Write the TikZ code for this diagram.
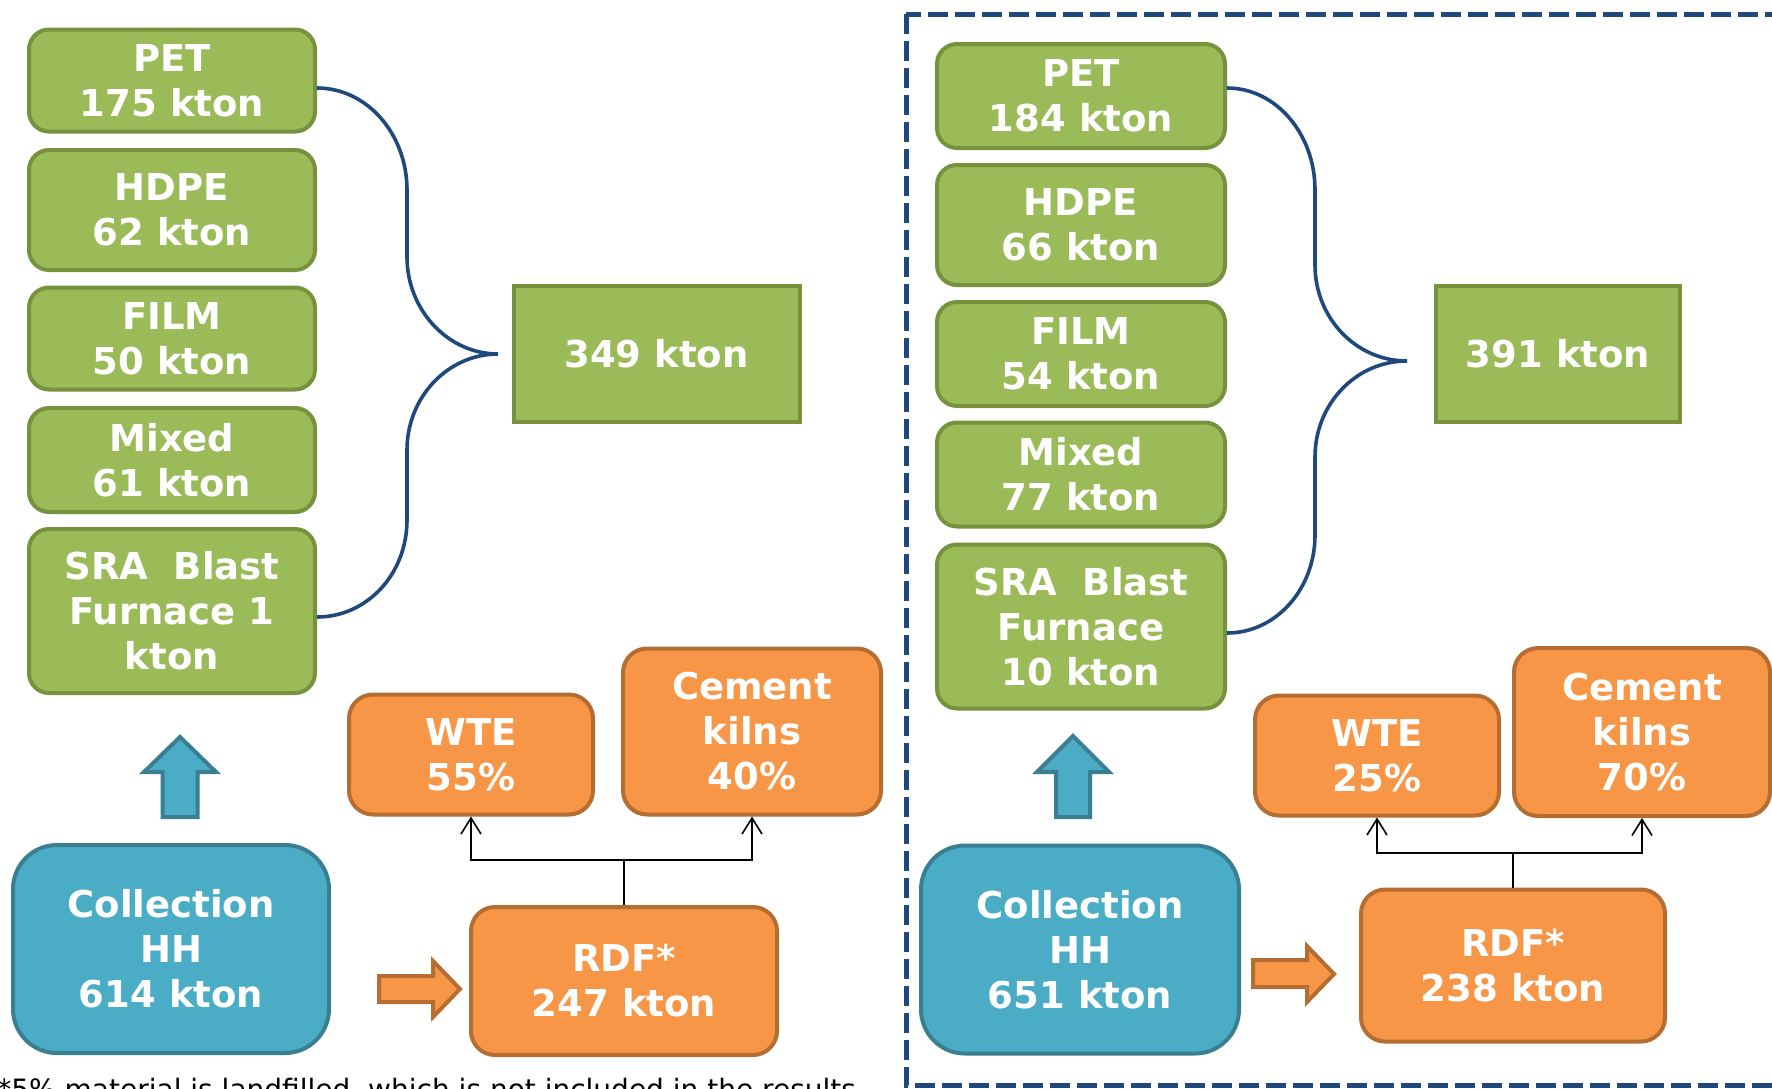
\documentclass[tikz,border=0pt]{standalone}
\usepackage{fontspec}
\setmainfont{DejaVu Sans}
\usetikzlibrary{arrows.meta}

\definecolor{gfill}{HTML}{9BBB59}
\definecolor{gline}{HTML}{76923C}
\definecolor{bfill}{HTML}{4BACC6}
\definecolor{bline}{HTML}{3A7F91}
\definecolor{ofill}{HTML}{F79646}
\definecolor{oline}{HTML}{B66D31}
\definecolor{navy}{HTML}{1F497D}

\newcommand\boxfont{\fontsize{18.5}{22.5}\selectfont\bfseries}

\tikzset{
  base/.style={line width=2pt, text=white, font=\boxfont, align=center, inner sep=0pt},
  gbox/.style={base, draw=gline, fill=gfill, rounded corners=10pt},
  gsum/.style={base, draw=gline, fill=gfill},
  bbox/.style={base, draw=bline, fill=bfill, rounded corners=22pt},
  obox/.style={base, draw=oline, fill=ofill, rounded corners=12pt},
  brace/.style={draw=navy, line width=1.8pt},
  link/.style={draw=black, line width=0.8pt},
  tip/.style={link, -{Straight Barb[length=8pt,width=10pt,line width=0.8pt]}},
  uparrow/.style={fill=bfill, draw=bline, line width=2pt, line join=miter},
  rarrow/.style={fill=ofill, draw=oline, line width=2pt, line join=miter},
  frame/.style={draw=navy, line width=2.5pt, dash pattern=on 10pt off 3.5pt}
}

\begin{document}
\begin{tikzpicture}[x=0.5pt, y=-0.5pt]
\clip (0,0) rectangle (1772,1088);
\fill[white] (0,0) rectangle (1772,1088);

% ---------- left scenario ----------
\node[gbox, minimum width=143pt, minimum height=51pt] (petA) at (172,80.5) {PET\\175 kton};
\node[gbox, minimum width=143pt, minimum height=60pt] (hdpeA) at (172,210) {HDPE\\62 kton};
\node[gbox, minimum width=143pt, minimum height=51pt] (filmA) at (172,338.5) {FILM\\50 kton};
\node[gbox, minimum width=143pt, minimum height=52pt] (mixA) at (172,460) {Mixed\\61 kton};
\node[gbox, minimum width=143pt, minimum height=82pt] (sraA) at (172,611) {SRA\ \ Blast\\Furnace 1\\kton};
\node[gsum, minimum width=143pt, minimum height=68pt] (sumA) at (656.5,354) {349 kton};

\coordinate (tipA) at (498,354);
\draw[brace] ([yshift=-3.75pt]petA.east) .. controls +(50,0) and +(0,-56) .. (407,190)
  -- (407,257) .. controls +(0,53) and +(-50,0) .. (tipA);
\draw[brace] (tipA) .. controls +(-50,0) and +(0,-53) .. (407,450)
  -- (407,520) .. controls +(0,54) and +(50,0) .. ([yshift=-3pt]sraA.east);

\node[bbox, minimum width=158pt, minimum height=104pt] (colA) at (171,949) {Collection\\HH\\614 kton};
\draw[uparrow] (162.5,817) -- (162.5,772) -- (144,772) -- (180,737) -- (216,772)
  -- (197.5,772) -- (197.5,817) -- cycle;

\node[obox, minimum width=153pt, minimum height=74pt] (rdfA) at (624,981) {RDF*\\247 kton};
\draw[rarrow] (379,976) -- (433,976) -- (433,961) -- (460,989) -- (433,1017)
  -- (433,1002) -- (379,1002) -- cycle;

\node[obox, minimum width=122pt, minimum height=60pt] (wteA) at (471,754.5) {WTE\\55\%};
\node[obox, minimum width=129pt, minimum height=83pt] (cemA) at (752,731.5) {Cement\\kilns\\40\%};

\coordinate (jA) at (624,860);
\draw[link] (rdfA.north) -- (jA);
\draw[tip] (jA) -| (wteA.south);
\draw[tip] (jA) -| (cemA.south);

% ---------- right scenario ----------
\draw[frame] (906,14) rectangle (1800,1085);

\node[gbox, minimum width=144pt, minimum height=52pt] (petB) at (1081,96) {PET\\184 kton};
\node[gbox, minimum width=144pt, minimum height=60pt] (hdpeB) at (1081,225) {HDPE\\66 kton};
\node[gbox, minimum width=144pt, minimum height=52pt] (filmB) at (1081,354) {FILM\\54 kton};
\node[gbox, minimum width=144pt, minimum height=52pt] (mixB) at (1081,474.5) {Mixed\\77 kton};
\node[gbox, minimum width=144pt, minimum height=82pt] (sraB) at (1081,626.5) {SRA\ \ Blast\\Furnace\\10 kton};
\node[gsum, minimum width=122pt, minimum height=68pt] (sumB) at (1558,354) {391 kton};

\coordinate (tipB) at (1407,361);
\draw[brace] ([yshift=4pt]petB.east) .. controls +(49,0) and +(0,-56) .. (1315,190)
  -- (1315,265) .. controls +(0,53) and +(-51,0) .. (tipB);
\draw[brace] (tipB) .. controls +(-51,0) and +(0,-53) .. (1315,457)
  -- (1315,535) .. controls +(0,54) and +(49,0) .. ([yshift=-3.25pt]sraB.east);

\node[bbox, minimum width=159pt, minimum height=104pt] (colB) at (1080,949.5) {Collection\\HH\\651 kton};
\draw[uparrow] (1056,817) -- (1056,772) -- (1037,772) -- (1073,736) -- (1109,772)
  -- (1090,772) -- (1090,817) -- cycle;

\node[obox, minimum width=152pt, minimum height=76pt] (rdfB) at (1513,965.5) {RDF*\\238 kton};
\draw[rarrow] (1253,960) -- (1307,960) -- (1307,946) -- (1334,974) -- (1307,1002)
  -- (1307,987) -- (1253,987) -- cycle;

\node[obox, minimum width=122pt, minimum height=60pt] (wteB) at (1377,755.5) {WTE\\25\%};
\node[obox, minimum width=128pt, minimum height=84pt] (cemB) at (1642,732) {Cement\\kilns\\70\%};

\coordinate (jB) at (1513,853);
\draw[link] (rdfB.north) -- (jB);
\draw[tip] (jB) -| (wteB.south);
\draw[tip] (jB) -| (cemB.south);

% ---------- footnote, running off the lower edge ----------
\node[anchor=north west, inner sep=0pt, font=\fontsize{14}{16}\selectfont] (note) at (-3,1078)
  {*5\% material is landfilled, which is not included in the results};
\end{tikzpicture}
\end{document}
